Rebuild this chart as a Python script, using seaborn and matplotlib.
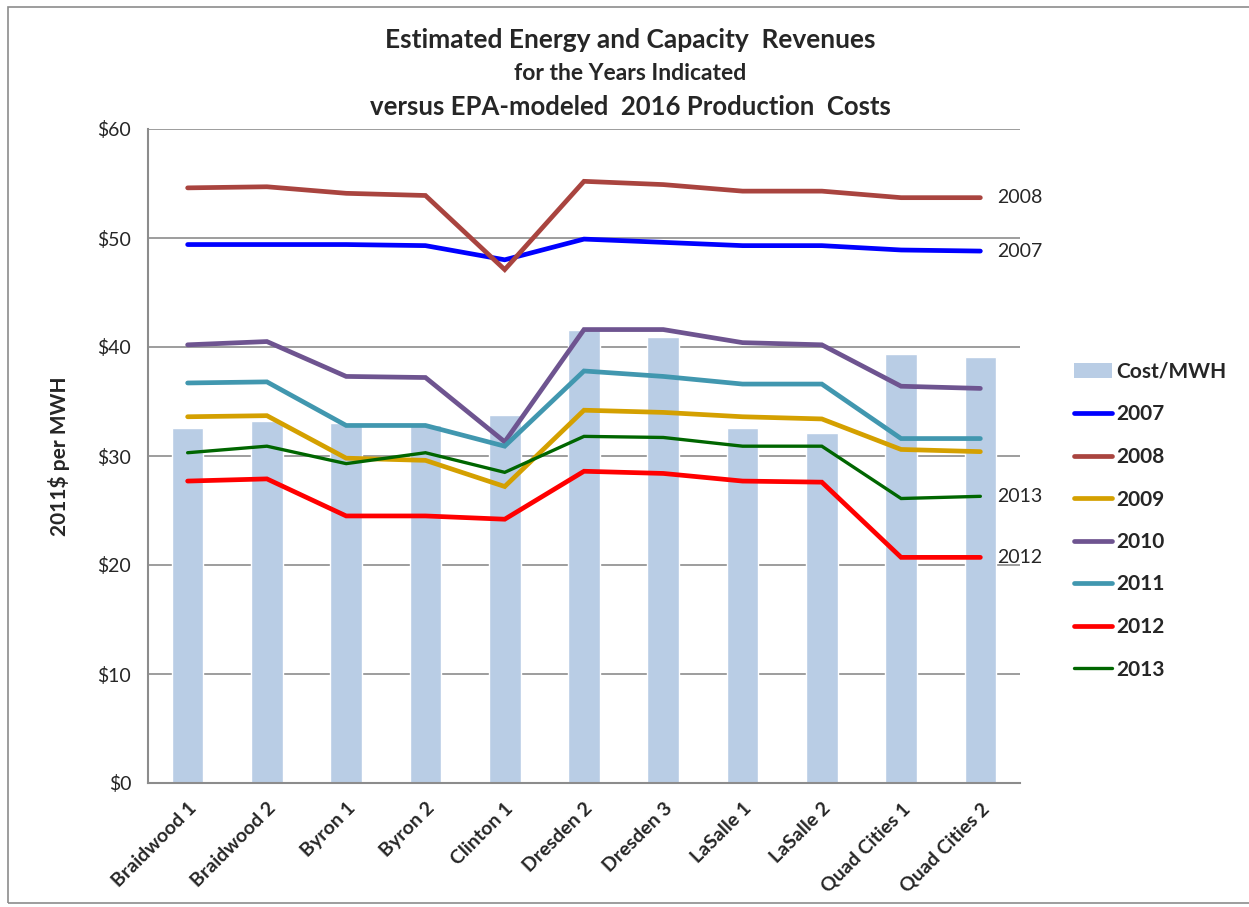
import pandas as pd
import matplotlib.pyplot as plt
import seaborn as sns
from matplotlib.patches import Patch, Rectangle
from matplotlib.lines import Line2D

stations = ['Braidwood 1', 'Braidwood 2', 'Byron 1', 'Byron 2', 'Clinton 1',
            'Dresden 2', 'Dresden 3', 'LaSalle 1', 'LaSalle 2',
            'Quad Cities 1', 'Quad Cities 2']

cost_mwh = [32.6, 33.2, 33.0, 32.8, 33.8, 41.6, 40.9, 32.6, 32.1, 39.4, 39.1]

rev_2007 = [49.4, 49.4, 49.4, 49.3, 48.0, 49.9, 49.6, 49.3, 49.3, 48.9, 48.8]
rev_2008 = [54.6, 54.7, 54.1, 53.9, 47.1, 55.2, 54.9, 54.3, 54.3, 53.7, 53.7]
rev_2009 = [33.6, 33.7, 29.8, 29.6, 27.2, 34.2, 34.0, 33.6, 33.4, 30.6, 30.4]
rev_2010 = [40.2, 40.5, 37.3, 37.2, 31.3, 41.6, 41.6, 40.4, 40.2, 36.4, 36.2]
rev_2011 = [36.7, 36.8, 32.8, 32.8, 30.9, 37.8, 37.3, 36.6, 36.6, 31.6, 31.6]
rev_2012 = [27.7, 27.9, 24.5, 24.5, 24.2, 28.6, 28.4, 27.7, 27.6, 20.7, 20.7]
rev_2013 = [30.3, 30.9, 29.3, 30.3, 28.5, 31.8, 31.7, 30.9, 30.9, 26.1, 26.3]

years = ['2007', '2008', '2009', '2010', '2011', '2012', '2013']
series = [rev_2007, rev_2008, rev_2009, rev_2010, rev_2011, rev_2012, rev_2013]
colors = {'2007': '#0000FF', '2008': '#A9443F', '2009': '#D4A000',
          '2010': '#6E5490', '2011': '#4197AF', '2012': '#FF0000',
          '2013': '#006600'}
widths = {y: 3.4 for y in years}
widths['2013'] = 2.4

sns.set_style('white')
plt.rcParams['font.family'] = ['Lato', 'DejaVu Sans']

bars = pd.DataFrame({'Station': stations, 'Cost': cost_mwh})
lines = pd.DataFrame([
    {'Station': s, 'Year': y, 'Value': v}
    for y, vals in zip(years, series) for s, v in zip(stations, vals)
])

fig = plt.figure(figsize=(12.49, 9.07), dpi=100)
ax = fig.add_axes([148 / 1249, 1 - 783 / 907, 872 / 1249, 654 / 907])

sns.barplot(data=bars, x='Station', y='Cost', color='#B9CDE5', width=0.4,
            saturation=1, ax=ax, zorder=2)
for y in years:
    sub = lines[lines['Year'] == y]
    sns.lineplot(data=sub, x='Station', y='Value', color=colors[y],
                 linewidth=widths[y], sort=False, ax=ax, zorder=3,
                 solid_capstyle='round', solid_joinstyle='miter')

ax.set_xlim(-0.5, len(stations) - 0.5)
ax.set_ylim(0, 60)
ax.set_yticks(range(0, 61, 10))
ax.set_yticklabels([f'${v}' for v in range(0, 61, 10)], fontsize=14)
ax.yaxis.grid(True, color='#8C8C8C', linewidth=1.2, zorder=0)
ax.set_axisbelow(True)
ax.set_xlabel('')
ax.set_ylabel('2011$ per MWH', fontsize=15, fontweight='bold', labelpad=20)

ax.set_xticks([i - 0.5 for i in range(len(stations) + 1)])
ax.set_xticklabels([])
ax.set_xticks(range(len(stations)), minor=True)
ax.set_xticklabels(stations, minor=True, rotation=45, ha='right',
                   rotation_mode='anchor', fontsize=14, fontweight='bold')
ax.tick_params(axis='x', which='minor', length=0, pad=12)
ax.tick_params(axis='x', which='major', length=7, color='#8C8C8C', direction='out')
ax.tick_params(axis='y', length=6, color='#8C8C8C', direction='out', pad=6)

for side in ['top', 'right']:
    ax.spines[side].set_visible(False)
for side in ['left', 'bottom']:
    ax.spines[side].set_color('#8C8C8C')
    ax.spines[side].set_linewidth(1.5)

for y in ['2008', '2007', '2013', '2012']:
    vals = series[years.index(y)]
    ax.annotate(y, xy=(len(stations) - 1, vals[-1]), xytext=(12, 0),
                textcoords='offset points', va='center', ha='left', fontsize=14)

handles = [Patch(facecolor='#B9CDE5', edgecolor='none')]
handles += [Line2D([0], [0], color=colors[y], linewidth=widths[y],
                   solid_capstyle='round') for y in years]
fig.legend(handles, ['Cost/MWH'] + years, loc='upper left',
           bbox_to_anchor=(1074 / 1249, 1 - 362 / 907), frameon=False,
           borderaxespad=0, borderpad=0,
           prop={'size': 15, 'weight': 'bold'}, handlelength=1.8,
           labelspacing=1.08, handletextpad=0.25)

fig.text(630 / 1249, 1 - 40 / 907, 'Estimated Energy and Capacity  Revenues',
         ha='center', va='center', fontsize=19, fontweight='bold')
fig.text(630 / 1249, 1 - 73 / 907, 'for the Years Indicated',
         ha='center', va='center', fontsize=16.5, fontweight='bold')
fig.text(630 / 1249, 1 - 107 / 907, 'versus EPA-modeled  2016 Production  Costs',
         ha='center', va='center', fontsize=18.5, fontweight='bold')

fig.patches.append(Rectangle((8 / 1249, 4 / 907), 1.1, 1 - 11 / 907,
                             transform=fig.transFigure, fill=False,
                             edgecolor='#8C8C8C', linewidth=1.2))

fig.savefig('out.png', dpi=100)
